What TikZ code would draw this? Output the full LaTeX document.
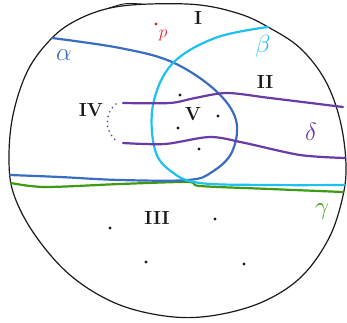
\documentclass[tikz,border=0pt]{standalone}
\usetikzlibrary{positioning}
\definecolor{alphablue}{HTML}{3A6CC0}
\definecolor{betacyan}{HTML}{1EC0F2}
\definecolor{gammagreen}{HTML}{3E9A14}
\definecolor{deltapurple}{HTML}{6A3AA6}
\definecolor{pointred}{HTML}{E8202A}
\definecolor{ink}{HTML}{1A1A1A}
\tikzset{
  rim/.style={draw=ink,line width=1.2pt},
  curve/.style={line width=2.2pt,line cap=round,line join=round},
  alphaline/.style={curve,draw=alphablue},
  betaline/.style={curve,draw=betacyan},
  gammaline/.style={curve,draw=gammagreen},
  deltaline/.style={curve,draw=deltapurple},
  region/.style={font=\fontsize{19}{19}\selectfont\bfseries,text=ink,inner sep=0pt},
  greek/.style={font=\fontsize{27}{27}\selectfont,inner sep=0pt},
  dot/.style={circle,fill=ink,inner sep=0pt,minimum size=3.2pt},
}
\begin{document}
\begin{tikzpicture}[x=1pt,y=-1pt]
\useasboundingbox (0,0) rectangle (347,322);
% outer disc
\draw[rim] plot[smooth cycle,tension=0.6] coordinates {(77,20) (110,8) (150,4) (200,5) (240,14) (268,27)
  (300,48) (325,80) (340,120) (346,165) (342,200) (328,240) (300,278) (260,303) (210,316)
  (165,316) (115,303) (70,275) (35,235) (14,195) (9,160) (13,115) (28,70) (52,38)};
\draw[rim,line width=.9pt] (109,8) .. controls (125,3) .. (142,4);
% gamma
\draw[gammaline] plot[smooth,tension=0.5] coordinates {(11,183) (45,187) (120,184) (188,182)
  (200,186) (270,189) (343,192)};
% alpha
\draw[alphaline] plot[smooth,tension=0.6] coordinates {(52,38) (120,48) (172,62) (215,90)
  (236,120) (232,152) (212,172) (188,180) (120,180) (60,177) (10,175)};
% beta
\draw[betaline] plot[smooth,tension=0.6] coordinates {(268,27) (215,38) (172,64) (153,105)
  (155,150) (172,172) (200,183) (270,185) (345,185)};
% delta
\draw[deltaline] plot[smooth,tension=0.5] coordinates {(123,103) (170,103) (195,98) (227,93)
  (270,98) (343,107)};
\draw[deltaline] plot[smooth,tension=0.5] coordinates {(123,143) (165,144) (210,137)
  (245,143) (300,155) (345,158)};
\draw[deltaline,line width=1.9pt,dash pattern=on 0pt off 5pt]
  (116,104) .. controls (103,115) and (105,133) .. (118,142);
% labels
\node[region] (rI) at (198,18) {I};
\node[region] (rII) at (265,82) {II};
\node[region] (rIII) at (157,218) {III};
\node[region] (rIV) at (91,110) {IV};
\node[region] (rV) at (193,114) {V};
\node[greek,text=alphablue] (la) at (64,55) {$\alpha$};
\node[greek,text=betacyan] (lb) at (263,46) {$\beta$};
\node[greek,text=deltapurple] (ld) at (311,132) {$\delta$};
\node[greek,text=gammagreen] (lg) at (322,212) {$\gamma$};
\node[dot,fill=pointred] (p) at (156,24) {};
\node[font=\fontsize{19}{19}\selectfont,text=pointred,inner sep=0pt] (lp) at (163,35) {$p$};
% points
\foreach \x/\y in {180/95,218/116,178/128,199/149,110/228,215/219,146/262,244/264}
  \node[dot] at (\x,\y) {};
\end{tikzpicture}
\end{document}
